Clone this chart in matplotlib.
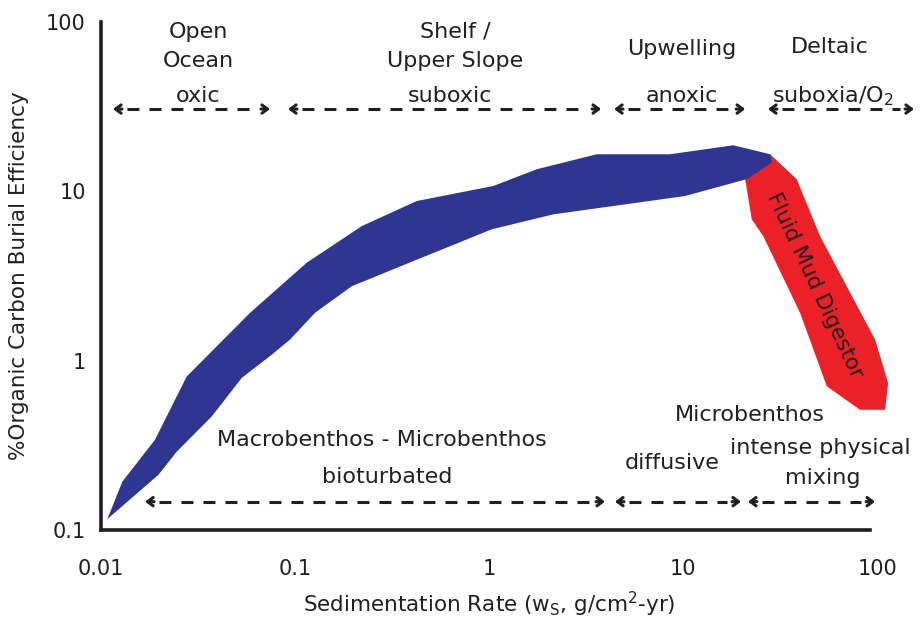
import matplotlib
matplotlib.use("Agg")
from matplotlib import pyplot as plt
from matplotlib import ticker as ticker
import numpy as np

plt.rcParams['font.family'] = ['DejaVu Sans']

INK = "#231f20"
BLUE = "#2e3692"
RED = "#ec2027"

# Tick values / labels (log-log axes)
x_ticks = [0.01, 0.1, 1, 10, 100]
x_tick_labels = ["0.01", "0.1", "1", "10", "100"]
y_ticks = [0.1, 1, 10, 100]
y_tick_labels = ["0.1", "1", "10", "100"]

# Normal marine burial efficiency envelope (upper edge left->right, then lower edge right->left)
band_x = [0.01078, 0.01288, 0.01897, 0.02766, 0.0372, 0.0586, 0.1148, 0.2208, 0.4236,
          1.052, 1.762, 3.59, 8.57, 18.16, 28.1, 28.7, 21.3,
          10.24, 2.145, 1.03, 0.407, 0.196, 0.1267, 0.0941, 0.0759, 0.0531,
          0.0372, 0.02455, 0.01974]
band_y = [0.116, 0.193, 0.341, 0.807, 1.135, 1.915, 3.785, 6.23, 8.76,
          10.75, 13.5, 16.55, 16.55, 18.7, 16.55, 14.8, 11.8,
          9.38, 7.31, 5.96, 3.87, 2.75, 1.915, 1.33, 1.085, 0.790,
          0.468, 0.290, 0.2115]

# Fluid mud digestor envelope
mud_x = [28.1, 38.5, 46.1, 50.8, 97.7, 114, 110, 81.7, 55.1, 40.1, 25.9, 22.6, 20.9]
mud_y = [16.55, 11.8, 7.14, 5.44, 1.33, 0.738, 0.513, 0.513, 0.705, 1.915, 5.44, 6.83, 11.8]

# Regime ranges drawn as double arrows: (x start, x end)
top_ranges = [(0.01153, 0.0743), (0.092, 3.78), (4.41, 20.9), (27.4, 155)]
top_y = 30.6
bottom_ranges = [(0.01686, 3.96), (4.46, 19.9), (21.6, 97.7)]
bottom_y = 0.147

# Text labels: (x, y, text)
labels = [
    (0.0316, 87.3, "Open"),
    (0.0316, 58.8, "Ocean"),
    (0.0316, 36.5, "oxic"),
    (0.668, 87.3, "Shelf /"),
    (0.668, 58.8, "Upper Slope"),
    (0.63, 36.5, "suboxic"),
    (9.88, 69.2, "Upwelling"),
    (9.88, 36.5, "anoxic"),
    (57.3, 71.1, "Deltaic"),
    (59.4, 36.5, "suboxia/O$_2$"),
    (0.2805, 0.341, "Macrobenthos - Microbenthos"),
    (0.297, 0.206, "bioturbated"),
    (22.1, 0.479, "Microbenthos"),
    (8.78, 0.249, "diffusive"),
    (50.8, 0.305, "intense physical"),
    (52.6, 0.203, "mixing"),
]

fig = plt.figure(figsize=(9.21, 6.19), dpi=100)
ax = fig.add_axes([0.1097, 0.1438, 0.8426, 0.8207])
ax.set_xscale("log")
ax.set_yscale("log")
ax.set_xlim(0.01, 100)
ax.set_ylim(0.1, 100)

ax.fill(mud_x, mud_y, color=RED, lw=0, clip_on=False, zorder=2)
ax.fill(band_x, band_y, color=BLUE, lw=0, clip_on=False, zorder=3)

ax.text(47.9, 2.78, "Fluid Mud Digestor", rotation=-65, ha="center", va="center",
        fontsize=15.5, color=INK, zorder=5, rotation_mode="anchor")


def double_arrow(x0, x1, y):
    # ~9 px arrow head on each end, dashed shaft in between
    head = 10 ** (9 / 194)
    ax.plot([x0 * head * 1.06, x1 / head / 1.06], [y, y], color=INK, lw=2.2,
            linestyle=(0, (3.9, 3.3)), clip_on=False, solid_capstyle="butt", zorder=4)
    for tip, tail in ((x0, x0 * head), (x1, x1 / head)):
        ax.annotate("", xy=(tip, y), xytext=(tail, y),
                    arrowprops=dict(arrowstyle="->,head_length=0.4,head_width=0.3",
                                    color=INK, lw=2.2, shrinkA=0, shrinkB=0),
                    annotation_clip=False, zorder=4)


for x0, x1 in top_ranges:
    double_arrow(x0, x1, top_y)
for x0, x1 in bottom_ranges:
    double_arrow(x0, x1, bottom_y)

for x, y, s in labels:
    ax.text(x, y, s, ha="center", va="center", fontsize=16, color=INK, zorder=5)

ax.spines["top"].set_visible(False)
ax.spines["right"].set_visible(False)
for side in ("left", "bottom"):
    ax.spines[side].set_linewidth(2.6)
    ax.spines[side].set_color(INK)
ax.spines["bottom"].set_bounds(0.01, 92)

ax.xaxis.set_major_locator(ticker.FixedLocator(x_ticks))
ax.xaxis.set_major_formatter(ticker.FixedFormatter(x_tick_labels))
ax.yaxis.set_major_locator(ticker.FixedLocator(y_ticks))
ax.yaxis.set_major_formatter(ticker.FixedFormatter(y_tick_labels))
ax.xaxis.set_minor_locator(ticker.NullLocator())
ax.yaxis.set_minor_locator(ticker.NullLocator())
ax.tick_params(axis="x", length=0, pad=21, labelsize=15, labelcolor=INK)
ax.tick_params(axis="y", length=0, pad=11, labelsize=15, labelcolor=INK)

ax.set_xlabel(r"Sedimentation Rate (w$_\mathrm{S}$, g/cm$^2$-yr)", fontsize=15.5, color=INK, labelpad=8)
ax.set_ylabel("%Organic Carbon Burial Efficiency", fontsize=15.5, color=INK, labelpad=12)

fig.savefig("out.png", dpi=100)
